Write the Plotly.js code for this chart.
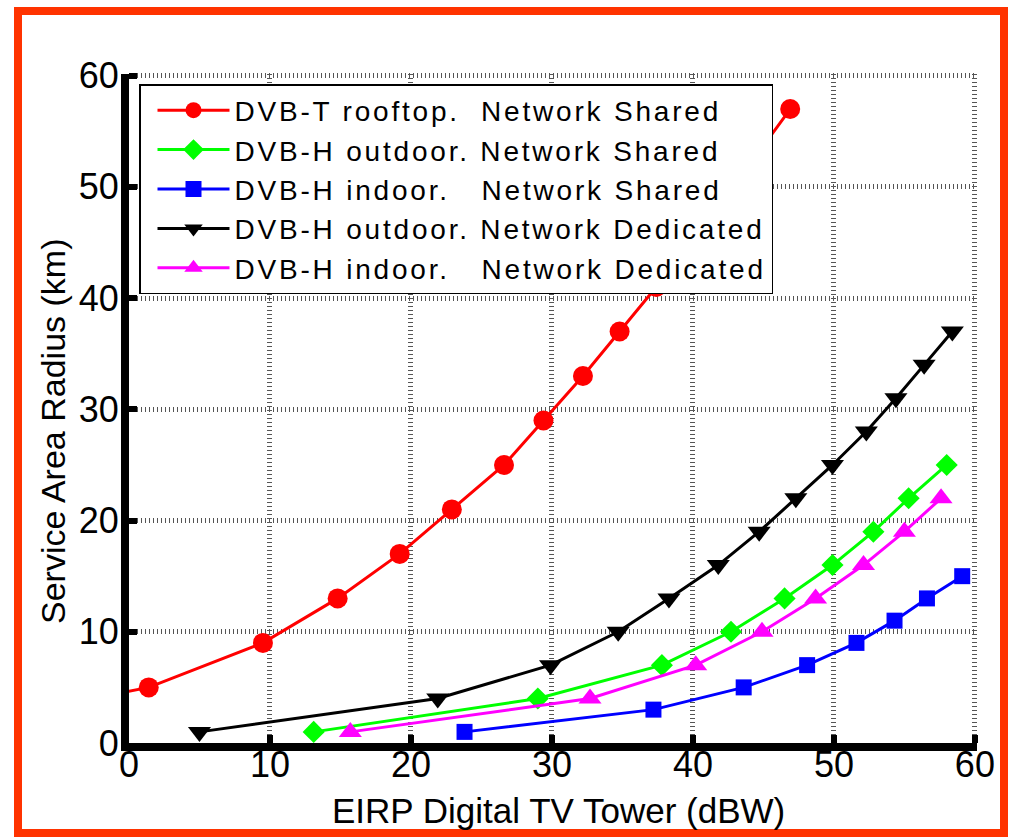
<!DOCTYPE html>
<html>
<head>
<meta charset="utf-8">
<script src="https://cdn.plot.ly/plotly-3.0.1.min.js"></script>
<style>
  html, body { margin: 0; padding: 0; background: #ffffff; }
  #chart { width: 1009px; height: 838px; }
  .legendtext { letter-spacing: 2.8px; }
</style>
</head>
<body>
<div id="chart"></div>
<script>
// ---- Data ----
var seriesNames = [
  'DVB-T rooftop.\u00a0\u00a0Network Shared',
  'DVB-H outdoor. Network Shared',
  'DVB-H indoor.\u00a0\u00a0\u00a0Network Shared',
  'DVB-H outdoor. Network Dedicated',
  'DVB-H indoor.\u00a0\u00a0\u00a0Network Dedicated'
];

// DVB-T rooftop, network shared (red circles)
var rooftopSharedX = [-1.0, 1.4, 9.5, 14.8, 19.2, 22.9, 26.6, 29.4, 32.2, 34.8, 37.4, 39.9, 42.3, 44.6, 46.9];
var rooftopSharedY = [4.4, 5, 9, 13, 17, 21, 25, 29, 33, 37, 41, 45, 49, 53, 57];

// DVB-H outdoor, network shared (green diamonds)
var outdoorSharedX = [13.1, 29.0, 37.8, 42.7, 46.5, 49.9, 52.8, 55.3, 58.0];
var outdoorSharedY = [1, 4, 7, 10, 13, 16, 19, 22, 25];

// DVB-H indoor, network shared (blue squares)
var indoorSharedX = [23.8, 37.2, 43.6, 48.1, 51.6, 54.3, 56.6, 59.1];
var indoorSharedY = [1, 3, 5, 7, 9, 11, 13, 15];

// DVB-H outdoor, network dedicated (black down-triangles)
var outdoorDedicatedX = [5.0, 21.9, 29.9, 34.7, 38.3, 41.8, 44.7, 47.3, 49.9, 52.3, 54.4, 56.4, 58.4];
var outdoorDedicatedY = [1, 4, 7, 10, 13, 16, 19, 22, 25, 28, 31, 34, 37];

// DVB-H indoor, network dedicated (magenta up-triangles)
var indoorDedicatedX = [15.7, 32.7, 40.2, 44.9, 48.7, 52.1, 55.0, 57.6];
var indoorDedicatedY = [1, 4, 7, 10, 13, 16, 19, 22];

var xTicks = [0, 10, 20, 30, 40, 50, 60];
var yTicks = [0, 10, 20, 30, 40, 50, 60];

var xTitle = 'EIRP Digital TV Tower (dBW)';
var yTitle = 'Service Area Radius (km)';

// ---- Traces ----
function mk(x, y, name, color, symbol, size) {
  return {
    x: x, y: y, name: name, type: 'scatter', mode: 'lines+markers',
    line: { color: color, width: 3 },
    marker: { color: color, symbol: symbol, size: size, line: { width: 0 } },
    cliponaxis: true
  };
}

var traces = [
  mk(rooftopSharedX, rooftopSharedY, seriesNames[0], '#ff0000', 'circle', 20),
  mk(outdoorSharedX, outdoorSharedY, seriesNames[1], '#00ff00', 'diamond', 17),
  mk(indoorSharedX, indoorSharedY, seriesNames[2], '#0000ff', 'square', 16),
  mk(outdoorDedicatedX, outdoorDedicatedY, seriesNames[3], '#000000', 'triangle-down', 20),
  mk(indoorDedicatedX, indoorDedicatedY, seriesNames[4], '#ff00ff', 'triangle-up', 20)
];

// range slightly past 60 so the dotted grid line at 60 is kept
var AX_MAX = 60.15;
var W = 1009, H = 838;
var L = 129, B = 95;
var pw = Math.round(846 * AX_MAX / 60), ph = Math.round(667 * AX_MAX / 60);
var R = W - L - pw, T = H - B - ph;
function px(v) { return (v - L) / pw; }
function py(v) { return (H - B - v) / ph; }

var fontFam = '"Liberation Sans", Arial, Helvetica, sans-serif';

var axisCommon = {
  range: [0, AX_MAX],
  tickmode: 'array',
  showgrid: true,
  gridcolor: '#555555',
  gridwidth: 5,
  griddash: '1px,3px',
  zeroline: false,
  showline: true,
  linecolor: '#000000',
  linewidth: 8,
  ticks: 'inside',
  ticklen: 8,
  tickwidth: 6,
  tickcolor: '#000000',
  tickfont: { family: fontFam, size: 36, color: '#000000' },
  fixedrange: true
};

var layout = {
  width: W, height: H,
  margin: { l: L, r: R, t: T, b: B, pad: 0 },
  paper_bgcolor: '#ffffff',
  plot_bgcolor: '#ffffff',
  showlegend: true,
  xaxis: Object.assign({}, axisCommon, {
    tickvals: xTicks, ticktext: xTicks.map(String),
    ticklabelstandoff: -17
  }),
  yaxis: Object.assign({}, axisCommon, {
    tickvals: yTicks, ticktext: yTicks.map(String),
    ticklabelstandoff: -5
  }),
  annotations: [
    {
      text: xTitle, xref: 'paper', yref: 'paper',
      x: px(558), y: py(810), xanchor: 'center', yanchor: 'middle',
      showarrow: false, font: { family: fontFam, size: 35, color: '#000000' }
    },
    {
      text: yTitle, xref: 'paper', yref: 'paper', textangle: -90,
      x: px(53), y: py(432), xanchor: 'center', yanchor: 'middle',
      showarrow: false, font: { family: fontFam, size: 34, color: '#000000' }
    }
  ],
  legend: {
    x: px(139), y: py(84), xanchor: 'left', yanchor: 'top',
    bgcolor: '#ffffff', bordercolor: '#000000', borderwidth: 1.5,
    font: { family: fontFam, size: 28, color: '#000000' },
    itemwidth: 72,
    indentation: 12,
    tracegroupgap: 0
  },
  shapes: [{
    type: 'rect', xref: 'paper', yref: 'paper', layer: 'above',
    x0: px(18), x1: px(1004), y0: py(833), y1: py(11),
    line: { color: '#ff3300', width: 8 }, fillcolor: 'rgba(0,0,0,0)'
  }]
};

Plotly.newPlot('chart', traces, layout, { staticPlot: true, displayModeBar: false });
</script>
</body>
</html>
